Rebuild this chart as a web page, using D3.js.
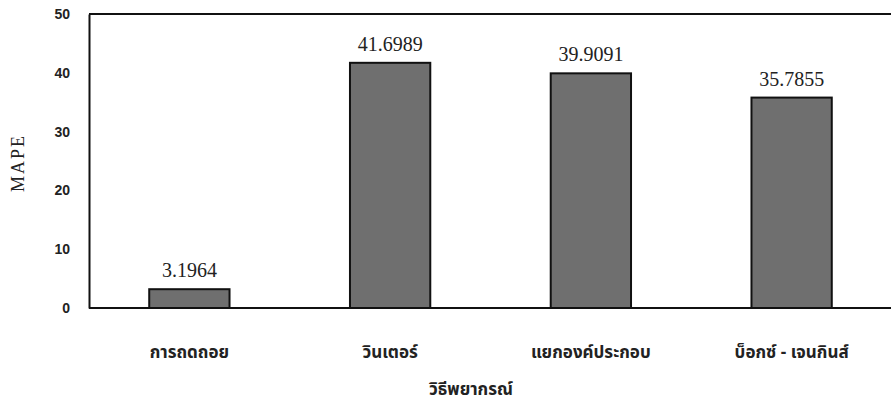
<!DOCTYPE html>
<html>
<head>
<meta charset="utf-8">
<script src="https://cdn.jsdelivr.net/npm/d3@7"></script>
<style>
  body { margin: 0; background: #fff; }
  svg { display: block; }
  .tick text { font-family: "Liberation Sans", Arial, sans-serif; font-weight: bold; font-size: 14px; fill: #222; }
  .val { font-family: "Liberation Serif", "Times New Roman", serif; font-size: 20px; fill: #222; }
  .cat { font-family: "Noto Sans Thai", "DejaVu Sans", "Noto Sans", sans-serif; font-weight: bold; font-size: 17px; fill: #222; }
</style>
</head>
<body>
<svg width="891" height="405"></svg>
<script>
// forecasting methods and their MAPE
var methods = ["การถดถอย", "วินเตอร์", "แยกองค์ประกอบ", "บ็อกซ์ - เจนกินส์"];
var mape = [3.1964, 41.6989, 39.9091, 35.7855];
var yTicks = [0, 10, 20, 30, 40, 50];

var svg = d3.select("svg"),
    width = +svg.attr("width"),
    height = +svg.attr("height");

var margin = {top: 14, right: -1, bottom: 97, left: 89};

var x = d3.scaleBand()
    .domain(methods)
    .range([margin.left, width - margin.right])
    .paddingInner(0.6)
    .paddingOuter(0.3);

var y = d3.scaleLinear()
    .domain([0, 50])
    .range([height - margin.bottom, margin.top]);

// bars
svg.append("g")
  .selectAll("rect")
  .data(mape)
  .enter().append("rect")
    .attr("x", function(d, i) { return x(methods[i]); })
    .attr("y", function(d) { return y(d); })
    .attr("width", x.bandwidth())
    .attr("height", function(d) { return y(0) - y(d); })
    .attr("fill", "#6f6f6f")
    .attr("stroke", "#111")
    .attr("stroke-width", 2);

// value labels
svg.append("g")
  .selectAll("text")
  .data(mape)
  .enter().append("text")
    .attr("class", "val")
    .attr("x", function(d, i) { return x(methods[i]) + x.bandwidth() / 2; })
    .attr("y", function(d) { return y(d) - 12; })
    .attr("text-anchor", "middle")
    .text(function(d) { return d.toFixed(4); });

// y axis
var yAxis = svg.append("g")
    .attr("transform", "translate(" + margin.left + ",0)")
    .call(d3.axisLeft(y).tickValues(yTicks).tickSize(0).tickPadding(19));
yAxis.select(".domain").attr("stroke", "#111").attr("stroke-width", 2);

// x axis line and frame top
svg.append("line")
    .attr("x1", margin.left).attr("x2", width)
    .attr("y1", y(0)).attr("y2", y(0))
    .attr("stroke", "#111").attr("stroke-width", 2);
svg.append("line")
    .attr("x1", margin.left).attr("x2", width)
    .attr("y1", y(50)).attr("y2", y(50))
    .attr("stroke", "#111").attr("stroke-width", 2);

// category labels
svg.append("g")
  .selectAll("text")
  .data(methods)
  .enter().append("text")
    .attr("class", "cat")
    .attr("x", function(d) { return x(d) + x.bandwidth() / 2; })
    .attr("y", 358)
    .attr("text-anchor", "middle")
    .text(function(d) { return d; });

// axis titles
svg.append("text")
    .attr("class", "cat")
    .attr("x", 471)
    .attr("y", 395)
    .attr("text-anchor", "middle")
    .text("วิธีพยากรณ์");

svg.append("text")
    .attr("class", "val")
    .style("font-size", "18px")
    .style("letter-spacing", "2px")
    .attr("transform", "translate(24,163) rotate(-90)")
    .attr("text-anchor", "middle")
    .text("MAPE");
</script>
</body>
</html>
